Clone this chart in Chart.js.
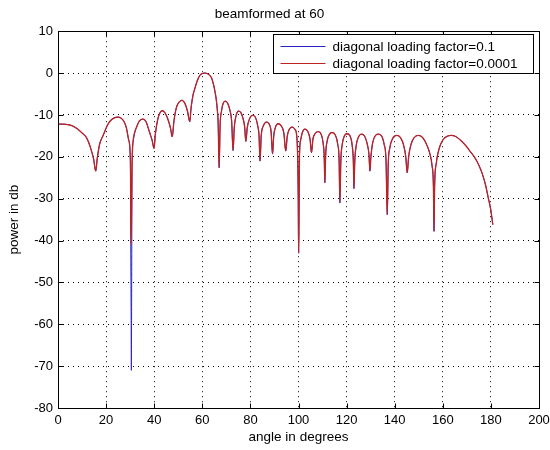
<!DOCTYPE html>
<html>
<head>
<meta charset="utf-8">
<script src="https://cdn.jsdelivr.net/npm/chart.js@4.4.1/dist/chart.umd.min.js"></script>
<style>
  html, body { margin: 0; padding: 0; background: #ffffff; }
  #wrap { width: 550px; height: 450px; position: relative; }
</style>
</head>
<body>
<div id="wrap"><canvas id="chart"></canvas></div>
<script>
// ---------- texts ----------
const chartTitle = 'beamformed at 60';
const xAxisTitle = 'angle in degrees';
const yAxisTitle = 'power in db';
const seriesLabels = ['diagonal loading factor=0.1', 'diagonal loading factor=0.0001'];
const seriesColors = ['rgb(40,40,190)', 'rgb(190,35,35)'];

// ---------- tick labels ----------
const xTickValues = [0, 20, 40, 60, 80, 100, 120, 140, 160, 180, 200];
const yTickValues = [-80, -70, -60, -50, -40, -30, -20, -10, 0, 10];

// ---------- data ----------
// pattern shared by both loading factors, before the null near 30.5 deg
const anglesBeforeNull = [0, 2, 4, 6, 8, 10, 12, 13.5, 14.8, 15.7, 16.3, 17.3, 18.7, 20.8, 22.5, 25, 27, 28.4, 29.4, 30.1];
const powerBeforeNull  = [-12.2, -12.2, -12.3, -12.6, -13.3, -14.3, -15.6, -17.8, -20.5, -23.4, -20.5, -17, -15, -12.2, -11, -10.5, -11.2, -13, -16, -21];

// the null near 30.5 deg, where the two loading factors differ
const nullAnglesLoad01   = [30.25, 30.4, 30.5, 30.6, 30.8];
const nullPowerLoad01    = [-41, -57, -71, -57, -22];
const nullAnglesLoad0001 = [30.4, 30.55, 30.8];
const nullPowerLoad0001  = [-41, -35, -22];

// pattern shared by both loading factors, after the null
const anglesAfterNull = [
  31.2, 32, 32.6, 33.8, 35.2, 36.5, 38.1, 39.2, 39.9,
  40.5, 41.5, 42.3, 43.3, 44.5, 45.8, 46.8, 47.5,
  48.2, 49.2, 50.4, 51.6, 52.8, 53.8, 54.8,
  55.3, 56.1, 57, 57.8, 58.9, 60, 61, 62, 63, 63.8, 64.6, 65.2, 65.8, 66.2, 66.6, 67,
  67.4, 68, 68.7, 69.6, 70.6, 71.5, 72.2, 72.8,
  73.3, 74, 75, 76, 77, 77.6, 78.1,
  78.7, 79.6, 80.8, 82, 83, 83.6, 84,
  84.5, 85.4, 86.7, 87.9, 88.6, 89.2,
  89.7, 90.5, 91.6, 92.8, 93.9, 94.7,
  95.3, 96.2, 97.4, 98.6, 99.4, 99.9, 100.05, 100.2, 100.4,
  100.9, 101.6, 102.6, 103.8, 104.8, 105.4,
  106, 107, 108.2, 109.4, 110.3, 110.7, 110.95,
  111.3, 111.9, 112.8, 114, 115.3, 116.3, 116.9, 117.2,
  117.6, 118.2, 119.1, 120.2, 121.4, 122.3, 122.8, 123.05,
  123.4, 124, 125, 126.2, 127.5, 128.6, 129.3, 129.7,
  130.1, 130.8, 131.8, 133.1, 134.5, 135.6, 136.4, 136.9,
  137.3, 138, 139.2, 140.8, 142.4, 143.7, 144.6, 145.2,
  145.8, 146.7, 148, 149.8, 151.6, 153.2, 154.5, 155.5, 156.1, 156.35,
  156.6, 157.3, 158.5, 160, 161.8, 163.6, 165.5, 167.5, 169.5, 171.5, 173.3, 175, 176.5, 177.8, 178.9, 179.9, 180.8
];
const powerAfterNull = [
  -16.5, -14, -13, -11.5, -11, -11.5, -14.2, -16.2, -18,
  -14.5, -11, -9.6, -9, -9.5, -11.2, -13.2, -15.2,
  -11.5, -8.3, -6.9, -6.5, -7.3, -9, -11.6,
  -8.5, -5.4, -3.5, -2, -0.6, -0.1, 0, -0.1, -0.5, -1.1, -2.6, -4.2, -6.3, -8.5, -12, -22.6,
  -12.5, -9, -7.2, -6.7, -7.3, -8.9, -11.5, -18.5,
  -13, -10.3, -9.1, -9.4, -11, -12.8, -16.3,
  -13, -11, -10.1, -10.5, -12.5, -15, -21,
  -15, -12.6, -11.7, -12.3, -14, -19.3,
  -15, -12.8, -12.1, -12.6, -14.3, -18.6,
  -15.2, -13.4, -12.9, -13.5, -16, -30, -43, -36, -20,
  -16, -14.2, -13.4, -13.9, -15.8, -19,
  -15.8, -14.4, -14, -14.6, -17, -20, -26.2,
  -19.5, -16.3, -14.7, -14.2, -14.8, -17, -21, -31,
  -21, -17, -15, -14.5, -15, -17.2, -21, -27.6,
  -21, -17.3, -15.2, -14.6, -15.1, -17, -19.5, -23.4,
  -20, -16.8, -15.1, -14.6, -15, -17, -21, -33.8,
  -22, -17.8, -15.6, -14.9, -15.4, -17.2, -20, -23.8,
  -20, -17.2, -15.5, -14.9, -15.4, -17, -19, -22, -27, -37.8,
  -27, -21.5, -18, -16, -15.1, -14.9, -15.2, -16.1, -17.3, -18.8, -20.2, -22, -24.2, -26.8, -29.8, -32.5, -36.2
];

// ---------- build point lists ----------
function toPoints(xs, ys) { return xs.map((x, i) => ({ x: x, y: ys[i] })); }
const pointsLoad01 = [].concat(
  toPoints(anglesBeforeNull, powerBeforeNull),
  toPoints(nullAnglesLoad01, nullPowerLoad01),
  toPoints(anglesAfterNull, powerAfterNull)
);
const pointsLoad0001 = [].concat(
  toPoints(anglesBeforeNull, powerBeforeNull),
  toPoints(nullAnglesLoad0001, nullPowerLoad0001),
  toPoints(anglesAfterNull, powerAfterNull)
);

const FONT = "'Liberation Sans', Arial, Helvetica, sans-serif";

// frame, inward tick marks and boxed legend in the MATLAB style
const matlabFrame = {
  id: 'matlabFrame',
  afterDatasetsDraw(chart) {
    const { ctx, chartArea: a, scales } = chart;
    const xs = scales.x, ys = scales.y;
    const L = Math.round(a.left) + 0.5, R = Math.round(a.right) + 0.5;
    const T = Math.round(a.top) + 0.5, B = Math.round(a.bottom) + 0.5;
    ctx.save();
    ctx.setLineDash([]);
    ctx.strokeStyle = '#000';
    ctx.lineWidth = 1;
    ctx.strokeRect(L, T, R - L, B - T);
    const tl = 5;
    ctx.beginPath();
    xTickValues.forEach(v => {
      const px = Math.round(xs.getPixelForValue(v)) + 0.5;
      ctx.moveTo(px, B); ctx.lineTo(px, B - tl);
      ctx.moveTo(px, T); ctx.lineTo(px, T + tl);
    });
    yTickValues.forEach(v => {
      const py = Math.round(ys.getPixelForValue(v)) + 0.5;
      ctx.moveTo(L, py); ctx.lineTo(L + tl, py);
      ctx.moveTo(R, py); ctx.lineTo(R - tl, py);
    });
    ctx.stroke();

    // legend box
    const bx = Math.round(a.right) - 266 + 0.5;
    const by = T + 3;
    const bw = 260, bh = 39;
    ctx.fillStyle = '#fff';
    ctx.fillRect(bx, by, bw, bh);
    ctx.strokeRect(bx, by, bw, bh);
    ctx.font = '13.5px ' + FONT;
    ctx.textBaseline = 'middle';
    ctx.textAlign = 'left';
    seriesLabels.forEach((lab, i) => {
      const ry = Math.round(by + 11 + i * 17.5) + 0.5;
      ctx.strokeStyle = seriesColors[i];
      ctx.beginPath();
      ctx.moveTo(bx + 7, ry); ctx.lineTo(bx + 52, ry);
      ctx.stroke();
      ctx.fillStyle = '#000';
      ctx.fillText(lab, bx + 59, ry + 0.5);
    });
    ctx.restore();
  }
};

new Chart(document.getElementById('chart'), {
  type: 'line',
  data: {
    datasets: [
      { label: seriesLabels[0], data: pointsLoad01, borderColor: seriesColors[0], borderWidth: 1,
        pointRadius: 0, fill: false, cubicInterpolationMode: 'monotone', order: 1 },
      { label: seriesLabels[1], data: pointsLoad0001, borderColor: seriesColors[1], borderWidth: 1.3,
        pointRadius: 0, fill: false, cubicInterpolationMode: 'monotone', order: 0 }
    ]
  },
  options: {
    responsive: true,
    maintainAspectRatio: false,
    animation: false,
    devicePixelRatio: 1,
    layout: { padding: { left: 0, right: 11, top: 0, bottom: 0 } },
    plugins: {
      legend: { display: false },
      tooltip: { enabled: false },
      title: {
        display: true, text: chartTitle, color: '#000',
        font: { family: FONT, size: 13.5, weight: 'normal' },
        padding: { top: 6, bottom: 9 }
      }
    },
    scales: {
      x: {
        type: 'linear', min: 0, max: 200,
        afterBuildTicks: s => { s.ticks = xTickValues.map(v => ({ value: v })); },
        afterFit: s => { s.height = 42; s.paddingLeft = 0; s.paddingRight = 0; },
        ticks: { color: '#000', font: { family: FONT, size: 13 }, padding: 5, maxRotation: 0, autoSkip: false },
        grid: { color: '#000', lineWidth: 1, drawTicks: false },
        border: { display: false, dash: [1, 4] },
        title: { display: true, text: xAxisTitle, color: '#000',
                 font: { family: FONT, size: 13.5 }, padding: { top: 0, bottom: 5 } }
      },
      y: {
        type: 'linear', min: -80, max: 10,
        afterBuildTicks: s => { s.ticks = yTickValues.map(v => ({ value: v })); },
        afterFit: s => { s.width = 58; s.paddingTop = 0; s.paddingBottom = 0; },
        ticks: { color: '#000', font: { family: FONT, size: 13 }, padding: 5, autoSkip: false },
        grid: { color: '#000', lineWidth: 1, drawTicks: false },
        border: { display: false, dash: [1, 4] },
        title: { display: true, text: yAxisTitle, color: '#000',
                 font: { family: FONT, size: 13.5 }, padding: { top: 6, bottom: 0 } }
      }
    }
  },
  plugins: [matlabFrame]
});
</script>
</body>
</html>
